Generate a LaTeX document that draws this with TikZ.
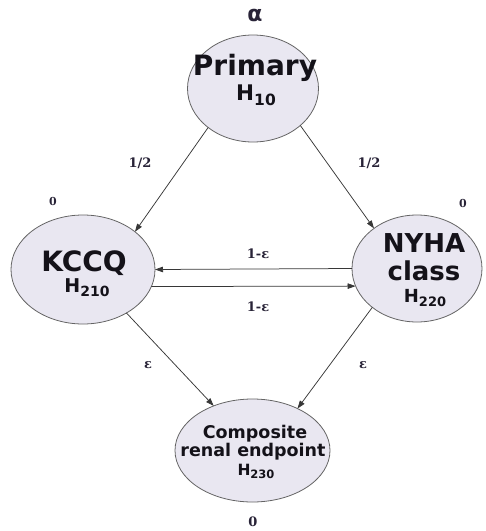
\documentclass[tikz,border=0pt]{standalone}
\usepackage{fontspec}
\setmainfont{DejaVu Sans}
\newfontfamily\labfont{DejaVu Serif}
\usetikzlibrary{arrows.meta,shapes.geometric}
\definecolor{nodefill}{RGB}{233,231,241}
\definecolor{nodeline}{RGB}{100,100,100}
\definecolor{txt}{RGB}{20,18,25}
\definecolor{edgecol}{RGB}{55,55,55}
\definecolor{labcol}{RGB}{40,35,55}
\newcommand\hsub[2]{H\raisebox{-0.25em}{\fontsize{#1}{#1}\selectfont #2}}
\tikzset{
  state/.style={ellipse, draw=nodeline, fill=nodefill, line width=0.8pt, inner sep=0pt, outer sep=0pt},
  ntext/.style={anchor=base, inner sep=0pt, text=txt, font=\bfseries},
  lab/.style={inner sep=0pt, text=labcol},
  edge/.style={draw=edgecol, line width=0.75pt, -{Triangle[length=8pt,width=5.5pt]}}
}
\begin{document}
\begin{tikzpicture}[x=1pt,y=-1pt]
\useasboundingbox (0,0) rectangle (486,531);
% states
\node[state, minimum width=131pt, minimum height=107pt] (P) at (253,88.5) {};
\node[state, minimum width=144pt, minimum height=109pt] (K) at (83,269.5) {};
\node[state, minimum width=130pt, minimum height=107pt] (N) at (417,268.5) {};
\node[state, minimum width=155pt, minimum height=103pt] (C) at (252.5,450.5) {};
% texts inside states
\node[ntext, font=\bfseries\fontsize{28}{30}\selectfont] (Pt1) at (255,75) {Primary};
\node[ntext, font=\bfseries\fontsize{21.5}{24}\selectfont] (Pt2) at (256,100) {\hsub{15.5}{10}};
\node[ntext, font=\bfseries\fontsize{28}{30}\selectfont] (Kt1) at (84,271) {KCCQ};
\node[ntext, font=\bfseries\fontsize{19}{22}\selectfont] (Kt2) at (87,292) {\hsub{14}{210}};
\node[ntext, font=\bfseries\fontsize{26}{30}\selectfont] (Nt1) at (424,252) {NYHA};
\node[ntext, font=\bfseries\fontsize{26}{30}\selectfont] (Nt2) at (424,280) {class};
\node[ntext, font=\bfseries\fontsize{18}{22}\selectfont] (Nt3) at (425,302) {\hsub{13}{220}};
\node[ntext, font=\bfseries\fontsize{17.5}{20}\selectfont] (Ct1) at (255,438.5) {Composite};
\node[ntext, font=\bfseries\fontsize{17.5}{20}\selectfont] (Ct2) at (253,456.5) {renal endpoint};
\node[ntext, font=\bfseries\fontsize{15.5}{18}\selectfont] (Ct3) at (256,475) {\hsub{11.5}{230}};
% weights
\node[lab, font=\bfseries\fontsize{22}{24}\selectfont] (alpha) at (255,15) {α};
\node[lab, font=\labfont\bfseries\fontsize{11}{12}\selectfont] (wK) at (53,201) {0};
\node[lab, font=\labfont\bfseries\fontsize{11}{12}\selectfont] (wN) at (463,203) {0};
\node[lab, font=\labfont\bfseries\fontsize{13}{14}\selectfont] (wC) at (253,522) {0};
% edges
\draw[edge] (P.221.4) -- (K.36);
\draw[edge] (P.322) -- (N.137.6);
\draw[edge] (N.180) -- (K.0.8);
\draw[edge] (K.-14.39) -- (N.196.87);
\draw[edge] (K.-45) -- (C.131);
\draw[edge] (N.221) -- (C.43.8);
% edge labels
\node[lab, font=\labfont\bfseries\fontsize{13}{14}\selectfont] (l1) at (140,163) {1/2};
\node[lab, font=\labfont\bfseries\fontsize{13}{14}\selectfont] (l2) at (369,163) {1/2};
\node[lab, font=\labfont\bfseries\fontsize{13}{14}\selectfont] (l3) at (258,254) {1-ε};
\node[lab, font=\labfont\bfseries\fontsize{13}{14}\selectfont] (l4) at (258,307) {1-ε};
\node[lab, font=\labfont\bfseries\fontsize{13}{14}\selectfont] (l5) at (148,365) {ε};
\node[lab, font=\labfont\bfseries\fontsize{13}{14}\selectfont] (l6) at (363,365) {ε};
\end{tikzpicture}
\end{document}
